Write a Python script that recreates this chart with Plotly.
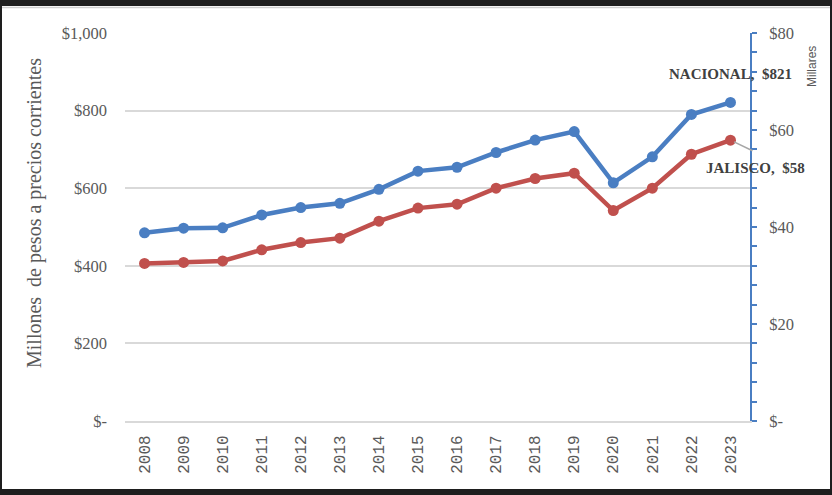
import plotly.graph_objects as go

years = ["2008", "2009", "2010", "2011", "2012", "2013", "2014", "2015",
         "2016", "2017", "2018", "2019", "2020", "2021", "2022", "2023"]
nacional = [485, 497, 498, 531, 550, 561, 597, 644, 654, 692, 724, 746, 614, 681, 790, 821]
jalisco = [32.5, 32.7, 33.0, 35.3, 36.8, 37.7, 41.2, 43.9, 44.7, 48.0, 50.0, 51.1, 43.4, 48.0, 55.0, 57.9]

left_vals = [0, 200, 400, 600, 800, 1000]
left_text = ["$-", "$200", "$400", "$600", "$800", "$1,000"]
right_vals = [0, 20, 40, 60, 80]
right_text = ["$-", "$20", "$40", "$60", "$80"]

nac_label = "NACIONAL,  $821"
jal_label = "JALISCO,  $58"
left_title = "Millones  de pesos a precios corrientes"
right_title = "Millares"

BLUE = "#4A7EC2"
RED = "#C0504D"
GRAY = "#595959"
GRID = "#D9D9D9"
SERIF = "Liberation Serif, Times New Roman, serif"

W, H = 832, 495
L, R, T, B = 125, 82, 33, 74
pw, ph = W - L - R, H - T - B


def px_x(px):
    return (px - L) / pw


def px_y(py):
    return (H - B - py) / ph


last = len(years) - 1

fig = go.Figure()
fig.add_trace(go.Scatter(
    x=years, y=nacional, mode="lines+markers", name="NACIONAL",
    line=dict(color=BLUE, width=4.5), marker=dict(size=11, color=BLUE),
    yaxis="y", showlegend=False))
fig.add_trace(go.Scatter(
    x=years, y=jalisco, mode="lines+markers", name="JALISCO",
    line=dict(color=RED, width=4.5), marker=dict(size=11, color=RED),
    yaxis="y2", showlegend=False))

fig.update_layout(
    width=W, height=H,
    margin=dict(l=L, r=R, t=T, b=B),
    paper_bgcolor="white", plot_bgcolor="white",
    xaxis=dict(
        type="category", range=[-0.5, len(years) - 0.5],
        showgrid=False, showline=True, linecolor=GRID, linewidth=2,
        ticks="", tickangle=-90, ticklabelstandoff=6,
        tickfont=dict(family="Liberation Mono, monospace", size=16, color=GRAY),
    ),
    yaxis=dict(
        range=[0, 1000], tickvals=left_vals, ticktext=left_text,
        showgrid=True, gridcolor=GRID, gridwidth=2, zeroline=False,
        showline=False, ticks="", ticklabelstandoff=17,
        tickfont=dict(family=SERIF, size=16.5, color=GRAY),
    ),
    yaxis2=dict(
        range=[0, 80], tickvals=right_vals, ticktext=right_text,
        overlaying="y", side="right", showgrid=False, zeroline=False,
        showline=True, linecolor=BLUE, linewidth=2,
        ticks="outside", ticklen=5, tickcolor=BLUE, tickwidth=2,
        minor=dict(dtick=4, ticks="outside", ticklen=5, tickcolor=BLUE, tickwidth=2),
        ticklabelstandoff=9,
        tickfont=dict(family=SERIF, size=16.5, color=GRAY),
    ),
    annotations=[
        dict(x=px_x(34), y=px_y(213), xref="paper", yref="paper",
             xanchor="center", yanchor="middle",
             text=left_title, textangle=-90, showarrow=False,
             font=dict(family=SERIF, size=20, color=GRAY)),
        dict(x=px_x(812), y=px_y(67), xref="paper", yref="paper",
             xanchor="center", yanchor="middle",
             text=right_title, textangle=-90, showarrow=False,
             font=dict(family="Liberation Sans, Arial, sans-serif", size=12, color=GRAY)),
        dict(x=last, y=nacional[-1], xref="x", yref="y",
             text="<b>" + nac_label + "</b>", showarrow=False,
             yshift=28, font=dict(family=SERIF, size=15, color="#404040")),
        dict(x=last, y=jalisco[-1], xref="x", yref="y2",
             text=" ", showarrow=True, arrowhead=0, arrowwidth=1.5,
             arrowcolor="#A6A6A6", ax=25, ay=12, standoff=4),
        dict(x=last, y=jalisco[-1], xref="x", yref="y2",
             text="<b>" + jal_label + "</b>", showarrow=False,
             xshift=25, yshift=-28, font=dict(family=SERIF, size=15, color="#404040")),
    ],
    shapes=[
        dict(type="rect", xref="paper", yref="paper", layer="above",
             x0=px_x(0), x1=px_x(W), y0=px_y(0), y1=px_y(6),
             fillcolor="#1E1E1E", line=dict(width=0)),
        dict(type="rect", xref="paper", yref="paper", layer="above",
             x0=px_x(0), x1=px_x(W), y0=px_y(489), y1=px_y(H),
             fillcolor="#1E1E1E", line=dict(width=0)),
        dict(type="rect", xref="paper", yref="paper", layer="above",
             x0=px_x(0), x1=px_x(2), y0=px_y(0), y1=px_y(H),
             fillcolor="#1E1E1E", line=dict(width=0)),
        dict(type="rect", xref="paper", yref="paper", layer="above",
             x0=px_x(W - 2), x1=px_x(W), y0=px_y(0), y1=px_y(H),
             fillcolor="#1E1E1E", line=dict(width=0)),
        dict(type="line", xref="paper", yref="paper", layer="above",
             x0=px_x(2), x1=px_x(W - 2), y0=px_y(7.5), y1=px_y(7.5),
             line=dict(color="#CFCFCF", width=1.5)),
    ],
)

fig.write_html("out.html", config={"displayModeBar": False},
               post_script="document.body.style.margin='0';")
